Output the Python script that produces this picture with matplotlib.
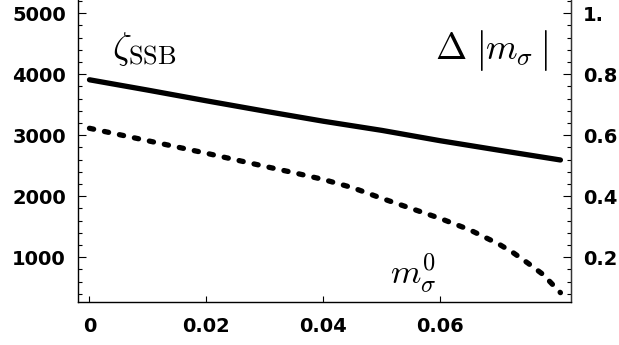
import matplotlib
matplotlib.use('Agg')
import matplotlib.pyplot as plt
from matplotlib.ticker import MultipleLocator

# data
x_ssb = [0.0, 0.01, 0.02, 0.03, 0.04, 0.05, 0.06, 0.07, 0.0805]
zeta_ssb = [3910, 3740, 3565, 3395, 3230, 3080, 2910, 2755, 2595]

x_m0 = [0.0, 0.01, 0.02, 0.03, 0.035, 0.04, 0.045, 0.05, 0.055, 0.06,
        0.065, 0.07, 0.0725, 0.075, 0.0775, 0.0805]
m_sigma0 = [3115, 2910, 2705, 2490, 2385, 2275, 2140, 1965, 1800, 1635,
            1450, 1215, 1070, 900, 720, 420]

x_ticks = [0, 0.02, 0.04, 0.06]
x_tick_labels = ['0', '0.02', '0.04', '0.06']
left_ticks = [1000, 2000, 3000, 4000, 5000]
right_ticks = [0.2, 0.4, 0.6, 0.8, 1.0]
right_tick_labels = ['0.2', '0.4', '0.6', '0.8', '1.']

plt.rcParams['mathtext.fontset'] = 'cm'
tick_font = {'family': 'DejaVu Sans', 'weight': 'bold', 'size': 14}

fig = plt.figure(figsize=(6.19, 3.45), dpi=100)
ax = fig.add_axes([0.1268, 0.1238, 0.922 - 0.1268, 1.0 - 0.1238])

ax.plot(x_ssb, zeta_ssb, color='black', lw=3.8, solid_capstyle='round')
ax.plot(x_m0, m_sigma0, color='black', lw=3.8, dashes=(0.8, 2.1),
        dash_capstyle='round')

ylo, yhi = 262, 5218
ax.set_xlim(-0.00188, 0.08226)
ax.set_ylim(ylo, yhi)

ax.set_xticks(x_ticks)
ax.set_xticklabels(x_tick_labels, fontdict=tick_font)
ax.set_yticks(left_ticks)
ax.set_yticklabels([str(t) for t in left_ticks], fontdict=tick_font)
ax.yaxis.set_minor_locator(MultipleLocator(200))

ax.tick_params(axis='x', which='major', direction='in', length=4, width=0.8, pad=10.5)
ax.tick_params(axis='y', which='major', direction='in', length=6, width=0.8, pad=9)
ax.tick_params(axis='y', which='minor', direction='in', length=3, width=0.8)
ax.spines['top'].set_visible(False)
for s in ['left', 'bottom', 'right']:
    ax.spines[s].set_linewidth(1.0)
    ax.spines[s].set_color('#333333')

ax2 = ax.twinx()
ax2.set_ylim(ylo / 5000, yhi / 5000)
ax2.set_yticks(right_ticks)
ax2.set_yticklabels(right_tick_labels, fontdict=tick_font)
ax2.yaxis.set_minor_locator(MultipleLocator(0.04))
ax2.tick_params(axis='y', which='major', direction='in', length=6, width=0.8, pad=9)
ax2.tick_params(axis='y', which='minor', direction='in', length=3, width=0.8)
ax2.spines['top'].set_visible(False)
ax2.spines['right'].set_color('#333333')

# curve labels
ax.text(0.0038, 4420, r'$\zeta_{\mathrm{SSB}}$', fontsize=27, va='center', ha='left')
ax.text(0.0590, 4251, r'$\Delta$', fontsize=27, va='baseline', ha='left')
ax.text(0.0666, 4398, r'$|$', fontsize=30, va='center', ha='center')
ax.text(0.0676, 4251, r'$m_{\sigma}$', fontsize=26, va='baseline', ha='left')
ax.text(0.0776, 4398, r'$|$', fontsize=30, va='center', ha='center')
ax.text(0.0513, 562, r'$m_{\sigma}^{0}$', fontsize=25, va='baseline', ha='left')

fig.savefig('out.png', dpi=100)
